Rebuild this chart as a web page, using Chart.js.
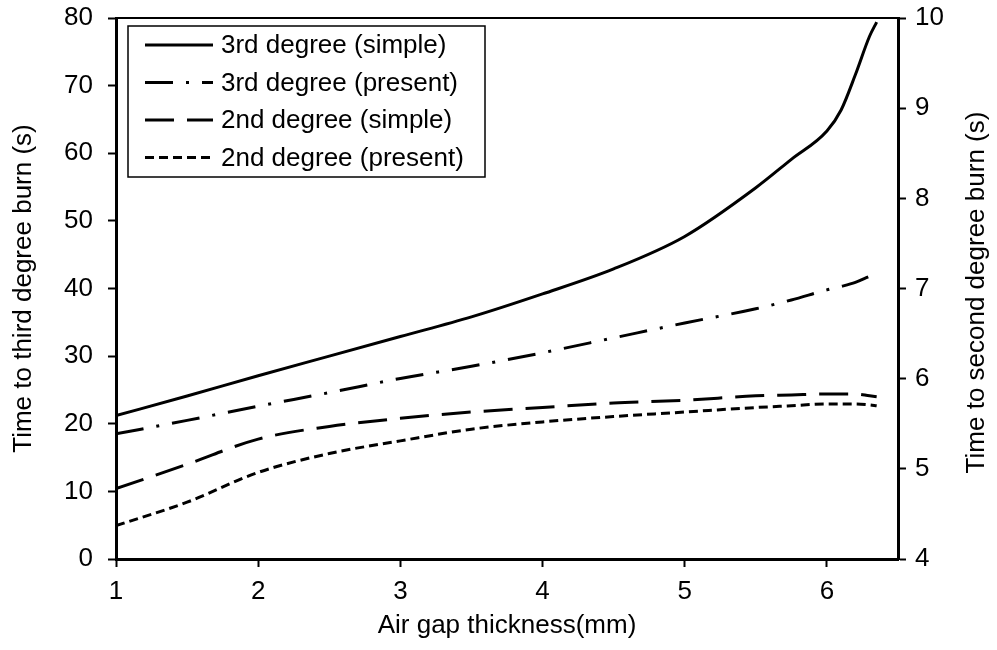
<!DOCTYPE html>
<html>
<head>
<meta charset="utf-8">
<script src="https://cdn.jsdelivr.net/npm/chart.js@4.4.1/dist/chart.umd.min.js"></script>
<style>
  html, body { margin: 0; padding: 0; background: #fff; }
  #wrap { width: 997px; height: 650px; }
</style>
</head>
<body>
<div id="wrap"><canvas id="burnChart" width="997" height="650"></canvas></div>
<script>
// Air gap thickness (mm)
const thickness = [1, 1.5, 2, 2.5, 3, 3.5, 4, 4.5, 5, 5.5, 5.75, 6, 6.1, 6.2, 6.3, 6.35];

// Time to third degree burn (s) - left axis
const thirdSimple  = [21.2, 24.1, 27.1, 30.0, 32.9, 35.8, 39.2, 42.9, 47.7, 54.9, 59.1, 63.3, 66.4, 71.6, 77.3, 79.4];
const thirdPresent = [18.5, 20.5, 22.6, 24.6, 26.7, 28.5, 30.5, 32.7, 34.9, 37.0, 38.3, 39.8, 40.3, 40.9, 41.8, 42.2];

// Time to second degree burn (s) - right axis
const secondSimple  = [4.78, 5.05, 5.33, 5.47, 5.56, 5.63, 5.68, 5.73, 5.76, 5.81, 5.82, 5.83, 5.83, 5.83, 5.81, 5.80];
const secondPresent = [4.37, 4.63, 4.96, 5.17, 5.31, 5.44, 5.52, 5.58, 5.63, 5.68, 5.70, 5.72, 5.72, 5.72, 5.71, 5.70];

const xTicks = [1, 2, 3, 4, 5, 6];

function toPoints(ys) {
    return ys.map((y, i) => ({ x: thickness[i], y: y }));
}

const fontFamily = '"Liberation Sans", Arial, sans-serif';

function makeSeries(label, ys, axis, dash) {
    return {
        label: label,
        data: toPoints(ys),
        yAxisID: axis,
        borderColor: '#000',
        borderWidth: 3,
        borderDash: dash,
        pointRadius: 0,
        fill: false,
        cubicInterpolationMode: 'monotone'
    };
}

// legend in a framed box inside the plot, top border line, right axis title (reads bottom-to-top)
const boxedLegend = {
    id: 'boxedLegend',
    afterDatasetsDraw(chart) {
        const ctx = chart.ctx;
        const area = chart.chartArea;
        ctx.save();
        ctx.strokeStyle = '#000';
        ctx.lineWidth = 2;
        ctx.beginPath();
        ctx.moveTo(area.left, area.top);
        ctx.lineTo(area.right, area.top);
        ctx.stroke();

        const bx = area.left + 12, by = area.top + 8, bw = 357, bh = 151;
        ctx.lineWidth = 1.5;
        ctx.strokeRect(bx, by, bw, bh);

        ctx.font = '26px ' + fontFamily;
        ctx.fillStyle = '#000';
        ctx.textBaseline = 'middle';
        chart.data.datasets.forEach((ds, i) => {
            const y = by + 19 + i * 37.5;
            ctx.setLineDash(ds.borderDash || []);
            ctx.lineWidth = 3;
            ctx.beginPath();
            ctx.moveTo(bx + 17, y);
            ctx.lineTo(bx + 85, y);
            ctx.stroke();
            ctx.setLineDash([]);
            ctx.fillText(ds.label, bx + 93, y + 1);
        });

        // right axis title
        ctx.translate(chart.width - 20, (area.top + area.bottom) / 2 + 4);
        ctx.rotate(-Math.PI / 2);
        ctx.textAlign = 'center';
        ctx.fillText('Time to second degree burn (s)', 0, 0);
        ctx.restore();
    }
};

const ctx = document.getElementById('burnChart').getContext('2d');
const burnChart = new Chart(ctx, {
    type: 'line',
    data: {
        datasets: [
            makeSeries('3rd degree (simple)', thirdSimple, 'y', []),
            makeSeries('3rd degree (present)', thirdPresent, 'y', [28, 13, 3, 13]),
            makeSeries('2nd degree (simple)', secondSimple, 'y2', [29, 13]),
            makeSeries('2nd degree (present)', secondPresent, 'y2', [9, 5])
        ]
    },
    options: {
        responsive: false,
        animation: false,
        layout: { padding: { top: 18, left: 0, right: 0, bottom: 0 } },
        scales: {
            x: {
                type: 'linear',
                min: 1,
                max: 6.5,
                afterFit: function(scale) {
                    scale.height = 91;
                    scale.paddingLeft = 0;
                    scale.paddingRight = 0;
                },
                afterBuildTicks: function(scale) {
                    scale.ticks = xTicks.map(v => ({ value: v }));
                },
                ticks: { color: '#000', font: { size: 26, family: fontFamily }, padding: 9, maxRotation: 0 },
                grid: { drawOnChartArea: false, drawTicks: true, tickLength: 8, tickWidth: 2, tickColor: '#000' },
                border: { display: true, width: 3, color: '#000' },
                title: {
                    display: true,
                    text: 'Air gap thickness(mm)',
                    color: '#000',
                    font: { size: 26, family: fontFamily },
                    padding: { top: 0, bottom: 9 }
                }
            },
            y: {
                position: 'left',
                min: 0,
                max: 80,
                afterFit: function(scale) {
                    scale.width = 116;
                    scale.paddingTop = 0;
                    scale.paddingBottom = 0;
                },
                ticks: { stepSize: 10, color: '#000', font: { size: 26, family: fontFamily }, padding: 15 },
                grid: { drawOnChartArea: false, drawTicks: true, tickLength: 8, tickWidth: 2, tickColor: '#000' },
                border: { display: true, width: 3, color: '#000' },
                title: {
                    display: true,
                    text: 'Time to third degree burn (s)',
                    color: '#000',
                    font: { size: 26, family: fontFamily },
                    padding: { top: 8, bottom: 0 }
                }
            },
            y2: {
                position: 'right',
                min: 4,
                max: 10,
                afterFit: function(scale) {
                    scale.width = 99;
                    scale.paddingTop = 0;
                    scale.paddingBottom = 0;
                },
                ticks: { stepSize: 1, color: '#000', font: { size: 26, family: fontFamily }, padding: 9 },
                grid: { drawOnChartArea: false, drawTicks: true, tickLength: 8, tickWidth: 2, tickColor: '#000' },
                border: { display: true, width: 3, color: '#000' },
                title: { display: false }
            }
        },
        plugins: {
            legend: { display: false },
            tooltip: { enabled: false }
        }
    },
    plugins: [boxedLegend]
});
</script>
</body>
</html>
